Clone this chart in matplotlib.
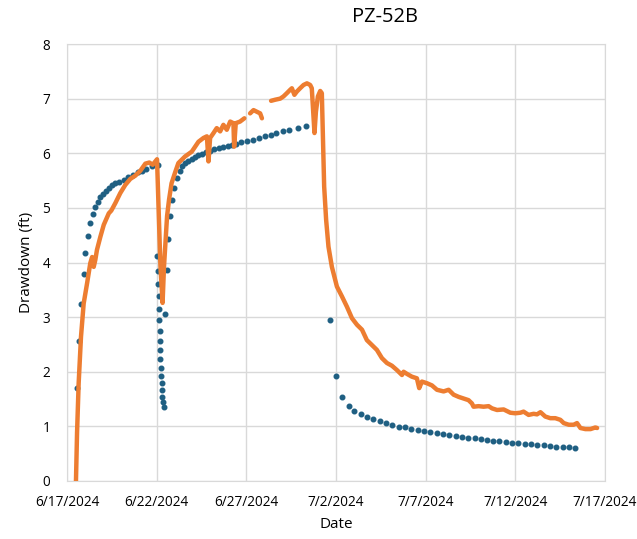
import datetime as dt
import numpy as np
import matplotlib
matplotlib.use('Agg')
import matplotlib.pyplot as plt
import matplotlib.dates as mdates
from matplotlib.ticker import FuncFormatter, MultipleLocator

# ---- data (days after 6/17/2024 00:00, drawdown in ft) ----
START = dt.datetime(2024, 6, 17)

# measured drawdown (orange), NaN = data gap
obs_days = [0.50, 0.56, 0.65, 0.78, 0.93, 1.12, 1.30, 1.40, 1.49, 1.58, 1.67, 1.86, 2.05,
            2.33, 2.47, 2.70, 2.97, 3.25, 3.53, 3.81, 4.09, 4.37, 4.59, 4.78, 5.02, 5.12,
            5.21, 5.33, 5.41, 5.50, 5.58, 5.69, 5.83, 6.03, 6.21, 6.58, 6.96, 7.33, 7.61,
            7.80, 7.89, 7.98, 8.17, 8.35, 8.54, 8.72, 8.91, 9.10, 9.28, 9.32, 9.41, 9.65,
            9.89, 10.05,
            10.21, 10.40, 10.59, 10.77, 10.87, 11.10,
            11.38, 11.61, 11.89, 12.07, 12.26, 12.44, 12.54, 12.68, 12.82, 13.00, 13.19,
            13.38, 13.56, 13.65, 13.74, 13.80, 13.88, 13.99, 14.12, 14.21, 14.27, 14.34,
            14.45, 14.58, 14.77, 15.05, 15.33, 15.61, 15.89, 16.17, 16.45, 16.72, 17.00,
            17.28, 17.56, 17.84, 18.12, 18.40, 18.68, 18.77, 18.96, 19.23, 19.51, 19.64,
            19.79, 20.07, 20.35, 20.63, 21.00, 21.28, 21.56, 21.84, 22.11, 22.39, 22.58,
            22.67, 22.95, 23.23, 23.51, 23.70, 23.98, 24.35, 24.72, 25.00, 25.28, 25.46,
            25.74, 26.02, 26.21, 26.40, 26.67, 26.95, 27.23, 27.51, 27.70, 27.98, 28.25,
            28.44, 28.63, 28.91, 29.19, 29.46, 29.56]
obs_dd = [0.00, 0.88, 1.79, 2.64, 3.25, 3.62, 3.99, 4.10, 3.92, 4.05, 4.23, 4.47, 4.69,
          4.90, 4.95, 5.09, 5.27, 5.42, 5.53, 5.59, 5.68, 5.81, 5.83, 5.79, 5.89, 4.84,
          3.93, 3.26, 3.93, 4.41, 4.85, 5.15, 5.45, 5.65, 5.82, 5.94, 6.03, 6.21, 6.28,
          6.31, 5.85, 6.28, 6.37, 6.46, 6.40, 6.52, 6.43, 6.58, 6.55, 6.12, 6.55, 6.58,
          6.64, np.nan,
          6.73, 6.79, 6.76, 6.73, 6.64, np.nan,
          6.96, 6.98, 7.00, 7.04, 7.10, 7.16, 7.19, 7.07, 7.13, 7.19, 7.25,
          7.28, 7.25, 7.19, 6.70, 6.37, 6.76, 7.04, 7.14, 7.10, 6.31, 5.39,
          4.78, 4.29, 3.92, 3.56, 3.38, 3.19, 2.98, 2.86, 2.77, 2.58, 2.49,
          2.40, 2.25, 2.16, 2.11, 2.03, 1.94, 2.00, 1.96, 1.91, 1.88, 1.70,
          1.82, 1.79, 1.75, 1.67, 1.64, 1.67, 1.58, 1.54, 1.51, 1.48, 1.42,
          1.36, 1.37, 1.36, 1.37, 1.33, 1.30, 1.31, 1.25, 1.24, 1.25, 1.27,
          1.21, 1.23, 1.22, 1.26, 1.18, 1.15, 1.15, 1.12, 1.06, 1.03, 1.03,
          1.06, 0.97, 0.95, 0.95, 0.98, 0.97]

# modelled drawdown (blue dots)
model_days = [0.56, 0.69, 0.78, 0.93, 1.02, 1.17, 1.30, 1.43, 1.55, 1.71, 1.86, 2.01, 2.18,
              2.33, 2.51, 2.70, 2.92, 3.16, 3.40, 3.67, 3.96, 4.19, 4.43, 4.74, 5.06,
              5.02, 5.06, 5.08, 5.11, 5.13, 5.15, 5.17, 5.18, 5.19, 5.21, 5.23, 5.25, 5.28,
              5.30, 5.32, 5.36, 5.40,
              5.49, 5.58, 5.64, 5.75, 5.86, 5.97, 6.14, 6.28, 6.40, 6.58, 6.77, 6.96, 7.14,
              7.33, 7.52, 7.74, 7.98, 8.22, 8.47, 8.71, 8.95, 9.19, 9.45, 9.71, 10.03,
              10.36, 10.70, 11.03, 11.35, 11.68, 12.04, 12.39, 12.89, 13.32,
              14.64, 14.99, 15.35, 15.70, 16.03, 16.39, 16.74, 17.09, 17.45, 17.80, 18.14,
              18.49, 18.85, 19.20, 19.55, 19.91, 20.26, 20.61, 20.97, 21.32, 21.67, 22.03,
              22.38, 22.73, 23.09, 23.42, 23.76, 24.11, 24.46, 24.82, 25.17, 25.52, 25.88,
              26.23, 26.58, 26.94, 27.29, 27.64, 28.00, 28.35]
model_dd = [1.70, 2.56, 3.24, 3.79, 4.18, 4.49, 4.72, 4.88, 5.01, 5.11, 5.19, 5.26, 5.31,
            5.36, 5.41, 5.45, 5.48, 5.51, 5.56, 5.60, 5.65, 5.68, 5.71, 5.76, 5.78,
            4.11, 3.85, 3.61, 3.38, 3.14, 2.94, 2.75, 2.56, 2.39, 2.23, 2.07, 1.92, 1.79,
            1.66, 1.54, 1.45, 1.36,
            3.06, 3.86, 4.43, 4.85, 5.15, 5.36, 5.55, 5.67, 5.76, 5.82, 5.86, 5.90, 5.93,
            5.96, 5.99, 6.02, 6.04, 6.07, 6.09, 6.11, 6.13, 6.15, 6.17, 6.20, 6.23,
            6.25, 6.28, 6.31, 6.34, 6.37, 6.40, 6.43, 6.47, 6.50,
            2.95, 1.93, 1.54, 1.37, 1.28, 1.23, 1.18, 1.13, 1.09, 1.06, 1.03,
            0.99, 0.98, 0.95, 0.93, 0.91, 0.89, 0.87, 0.86, 0.84, 0.82, 0.81,
            0.79, 0.78, 0.77, 0.75, 0.74, 0.73, 0.71, 0.70, 0.70, 0.68, 0.67,
            0.66, 0.65, 0.64, 0.63, 0.62, 0.62, 0.60]

def to_dates(days):
    return [START + dt.timedelta(days=d) for d in days]

# ---- plot ----
plt.rcParams['font.family'] = ['Open Sans', 'DejaVu Sans']
fig = plt.figure(figsize=(6.37, 5.39), dpi=100)
ax = fig.add_axes([67/637, 1-481/539, (605-67)/637, (481-44)/539])

ax.plot(to_dates(model_days), model_dd, ls='none', marker='o', ms=3.3,
        color='#1f5f82', zorder=2)
ax.plot(to_dates(obs_days), obs_dd, color='#ED7D31', lw=3.2,
        solid_capstyle='round', solid_joinstyle='round', zorder=3)

ax.set_xlim(START, START + dt.timedelta(days=30))
ax.set_ylim(0, 8)
ax.xaxis.set_major_locator(mdates.DayLocator(bymonthday=[2, 7, 12, 17, 22, 27]))
ax.xaxis.set_major_formatter(FuncFormatter(
    lambda v, p: '{d.month}/{d.day}/{d.year}'.format(d=mdates.num2date(v))))
ax.yaxis.set_major_locator(MultipleLocator(1))

ax.grid(True, color='#d9d9d9', lw=1)
ax.set_axisbelow(True)
for s in ax.spines.values():
    s.set_color('#d9d9d9')
ax.tick_params(length=0, labelsize=9.8, colors='black')
ax.tick_params(axis='x', pad=10)
ax.tick_params(axis='y', pad=12)

ax.set_xlabel('Date', fontsize=11, labelpad=5)
ax.set_ylabel('Drawdown (ft)', fontsize=11, labelpad=6)
fig.text(385/637, 1-17/539, 'PZ-52B', fontsize=14.5, ha='center', va='center')

fig.savefig('out.png', dpi=100)
